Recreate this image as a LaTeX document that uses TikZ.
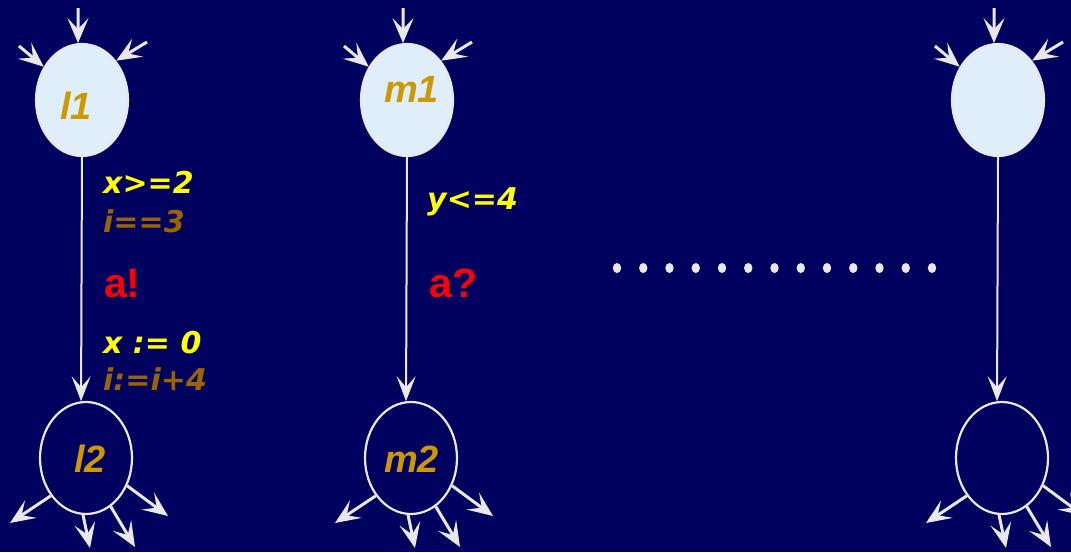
\documentclass[tikz,border=0pt]{standalone}
\usepackage{fontspec}
\usetikzlibrary{arrows.meta,shapes.geometric}
\newfontfamily\arialf{Liberation Sans}
\newfontfamily\verdf{DejaVu Sans}
\definecolor{bgc}{HTML}{00005E}
\definecolor{edgec}{HTML}{E8E8E8}
\definecolor{fillc}{HTML}{E0EEFA}
\definecolor{goldc}{HTML}{CC9900}
\definecolor{brownc}{HTML}{9A6400}
\definecolor{yelc}{HTML}{FFFF00}
\definecolor{redc}{HTML}{FF0000}
\tikzset{
  loc/.style={ellipse,minimum width=92pt,minimum height=112pt,inner sep=0pt,line width=2.2pt},
  initloc/.style={loc,draw=edgec,fill=fillc},
  endloc/.style={loc,draw=edgec},
  arr/.style={draw=edgec,line width=3pt,-{Stealth[length=25pt,width=21pt,inset=11pt,fill=edgec]}},
  trans/.style={draw=edgec,line width=2pt,-{Stealth[length=25pt,width=19pt,inset=11pt,fill=edgec]}},
  lbl/.style={anchor=base west,inner sep=0pt,text=goldc,font=\arialf\bfseries\itshape\fontsize{38}{38}\selectfont},
  cond/.style={anchor=base west,inner sep=0pt,font=\verdf\bfseries\itshape\fontsize{30}{30}\selectfont},
  chan/.style={anchor=base west,inner sep=0pt,text=redc,font=\arialf\bfseries\fontsize{41}{41}\selectfont},
  dotc/.style={fill=edgec,draw=none}
}
\begin{document}
\begin{tikzpicture}[x=1pt,y=-1pt]
\fill[bgc] (0,0) rectangle (1071,552);
\clip (0,0) rectangle (1071,552);
% locations
\node[initloc] (l1) at (82,100) {};
\node[initloc] (m1) at (407,100) {};
\node[initloc] (r1) at (998,100) {};
\node[endloc] (l2) at (86,458) {};
\node[endloc] (m2) at (411,458) {};
\node[endloc] (r2) at (1002,458) {};
% location labels
\node[lbl] (l1t) at (60,119) {l1};
\node[lbl] (m1t) at (384,102) {m1};
\node[lbl] (l2t) at (74,472) {l2};
\node[lbl] (m2t) at (384,472) {m2};
% transitions
\draw[trans] (l1.south) -- (l2.95);
\draw[trans] (m1.south) -- (m2.95);
\draw[trans] (r1.south) -- (r2.95);
% incoming and outgoing arrows
\foreach \n/\cx in {l/82,m/407,r/998}{
  \coordinate (\n in1) at (\cx-4,8);
  \coordinate (\n in2) at (\cx-63,46);
  \coordinate (\n in3) at (\cx+65,42);
  \draw[arr] (\n in1) -- (\n 1.94);
  \draw[arr] (\n in2) -- (\n 1.139);
  \draw[arr] (\n in3) -- (\n 1.49);
}
\foreach \n/\cx in {l/86,m/411,r/1002}{
  \coordinate (\n out1) at (\cx-76,523);
  \coordinate (\n out2) at (\cx+4,548);
  \coordinate (\n out3) at (\cx+49,547);
  \coordinate (\n out4) at (\cx+82,516);
  \draw[arr] (\n 2.227) -- (\n out1);
  \draw[arr] (\n 2.267) -- (\n out2);
  \draw[arr] (\n 2.297) -- (\n out3);
  \draw[arr] (\n 2.326) -- (\n out4);
}
% labels of transition l1 -> l2
\node[cond,text=yelc] (g1) at (103,193) {x>=2};
\node[cond,text=brownc] (g2) at (103,232) {i==3};
\node[chan] (s1) at (104,297) {a!};
\node[cond,text=yelc] (u1) at (103,353) {x := 0};
\node[cond,text=brownc] (u2) at (103,390) {i:=i+4};
% labels of transition m1 -> m2
\node[cond,text=yelc] (g3) at (427,209) {y<=4};
\node[chan] (s2) at (429,297) {a?};
% dots
\foreach \i in {0,...,12}{
  \fill[dotc] (617+\i*26.25,268) ellipse (4.2pt and 5pt);
}
\end{tikzpicture}
\end{document}
